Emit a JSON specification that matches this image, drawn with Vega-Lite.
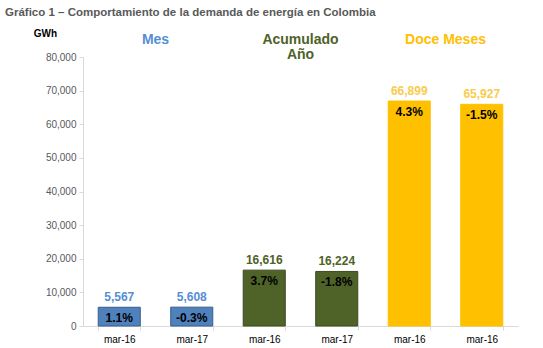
{
  "$schema": "https://vega.github.io/schema/vega-lite/v6.json",
  "width": 435,
  "height": 269,
  "autosize": {"type": "none"},
  "padding": {"left": 83, "top": 57, "right": 25, "bottom": 22},
  "background": "white",
  "config": {
    "font": "Liberation Sans",
    "view": {"stroke": null},
    "axisY": {
      "values": [0, 10000, 20000, 30000, 40000, 50000, 60000, 70000, 80000],
      "labelExpr": "format(datum.value, ',.0f')",
      "grid": false,
      "labelFontSize": 10,
      "labelColor": "#595959",
      "labelPadding": 3,
      "domainColor": "#d9d9d9",
      "tickColor": "#d9d9d9",
      "tickSize": 4,
      "titleAngle": 0,
      "titleX": -38,
      "titleY": -24,
      "titleAlign": "center",
      "titleBaseline": "middle",
      "titleFontSize": 10,
      "titleFontWeight": "bold",
      "titleColor": "#000000"
    }
  },
  "title": {
    "text": "Gráfico 1 – Comportamiento de la demanda de energía en Colombia",
    "anchor": "start",
    "frame": "group",
    "dx": -78,
    "fontSize": 11.5,
    "fontWeight": "bold",
    "color": "#595959",
    "offset": 10
  },
  "datasets": {
    "bars": [
      {"key": "Mes|mar-16|1", "group": "Mes", "value": 5567, "pct": "1.1%"},
      {"key": "Mes|mar-17|2", "group": "Mes", "value": 5608, "pct": "-0.3%"},
      {"key": "Acumulado|mar-16|3", "group": "Acumulado", "value": 16616, "pct": "3.7%"},
      {"key": "Acumulado|mar-17|4", "group": "Acumulado", "value": 16224, "pct": "-1.8%"},
      {"key": "Doce|mar-16|5", "group": "Doce", "value": 66899, "pct": "4.3%"},
      {"key": "Doce|mar-16|6", "group": "Doce", "value": 65927, "pct": "-1.5%"}
    ],
    "headers": [
      {"group": "Mes", "label": "Mes"},
      {"group": "Acumulado", "label": "Acumulado\nAño"},
      {"group": "Doce", "label": "Doce Meses"}
    ]
  },
  "layer": [
    {
      "data": {"name": "bars"},
      "mark": {"type": "bar", "strokeWidth": 1},
      "encoding": {
        "x": {
          "field": "key", "type": "nominal", "sort": null,
          "scale": {"paddingInner": 0.42, "paddingOuter": 0.21},
          "axis": {
            "title": null,
            "labelAngle": 0,
            "labelExpr": "split(datum.value,'|')[1]",
            "labelFontSize": 10,
            "labelColor": "#000000",
            "labelPadding": 4,
            "domainColor": "#d9d9d9",
            "tickColor": "#d9d9d9",
            "tickSize": 4,
            "tickBand": "extent"
          }
        },
        "y": {
          "field": "value", "type": "quantitative",
          "scale": {"domain": [0, 80000], "nice": false},
          "axis": {"title": "GWh"}
        },
        "color": {
          "field": "group", "type": "nominal",
          "scale": {"domain": ["Mes", "Acumulado", "Doce"], "range": ["#4F81BD", "#4F6228", "#FFC000"]},
          "legend": null
        },
        "stroke": {
          "field": "group", "type": "nominal",
          "scale": {"domain": ["Mes", "Acumulado", "Doce"], "range": ["#385D8A", "#3B4A1E", "#FFC000"]},
          "legend": null
        }
      }
    },
    {
      "data": {"name": "bars"},
      "mark": {"type": "text", "dy": -10, "baseline": "middle", "fontSize": 12, "fontWeight": "bold"},
      "encoding": {
        "x": {"field": "key", "type": "nominal", "sort": null, "scale": {"paddingInner": 0.42, "paddingOuter": 0.21}, "axis": null},
        "y": {"field": "value", "type": "quantitative", "scale": {"domain": [0, 80000], "nice": false}, "axis": {"title": "GWh"}},
        "text": {"field": "value", "type": "quantitative", "format": ","},
        "color": {
          "field": "group", "type": "nominal",
          "scale": {"domain": ["Mes", "Acumulado", "Doce"], "range": ["#558ED5", "#4F6228", "#FACB4E"]},
          "legend": null
        }
      }
    },
    {
      "data": {"name": "bars"},
      "mark": {"type": "text", "dy": 11, "baseline": "middle", "fontSize": 12, "fontWeight": "bold", "color": "#000000"},
      "encoding": {
        "x": {"field": "key", "type": "nominal", "sort": null, "scale": {"paddingInner": 0.42, "paddingOuter": 0.21}, "axis": null},
        "y": {"field": "value", "type": "quantitative", "scale": {"domain": [0, 80000], "nice": false}, "axis": {"title": "GWh"}},
        "text": {"field": "pct", "type": "nominal"}
      }
    },
    {
      "data": {"name": "headers"},
      "mark": {"type": "text", "baseline": "middle", "fontSize": 14, "fontWeight": "bold", "lineBreak": "\n", "lineHeight": 15},
      "encoding": {
        "x": {"field": "group", "type": "nominal", "sort": null, "scale": {"domain": ["Mes", "Acumulado", "Doce"], "paddingInner": 0, "paddingOuter": 0}, "axis": null},
        "y": {"datum": 85000, "type": "quantitative", "scale": {"domain": [0, 80000], "nice": false}, "axis": {"title": "GWh"}},
        "text": {"field": "label", "type": "nominal"},
        "color": {
          "field": "group", "type": "nominal",
          "scale": {"domain": ["Mes", "Acumulado", "Doce"], "range": ["#558ED5", "#4F6228", "#FFC000"]},
          "legend": null
        }
      }
    }
  ],
  "resolve": {"scale": {"x": "independent", "color": "independent", "stroke": "independent"}}
}
